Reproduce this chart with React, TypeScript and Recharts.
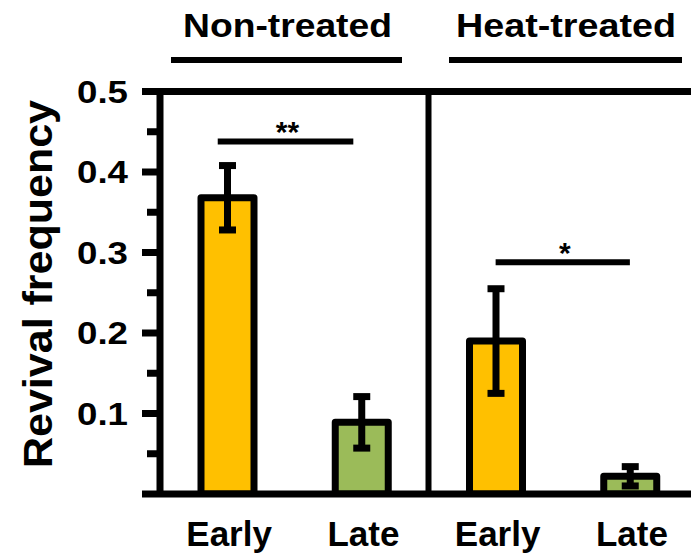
import React from 'react';
import { BarChart, Bar, XAxis, YAxis, ErrorBar, Cell, ReferenceLine } from 'recharts';

const groups = ['Non-treated', 'Heat-treated'];
const categories = ['Early', 'Late', 'Early', 'Late'];
const means = [0.368, 0.089, 0.19, 0.022];
const errors = [0.04, 0.032, 0.065, 0.012];
const barColors = ['#FFC000', '#9BBB59', '#FFC000', '#9BBB59'];
const yTicks = [0, 0.05, 0.1, 0.15, 0.2, 0.25, 0.3, 0.35, 0.4, 0.45, 0.5];
const yLabelled = [0.1, 0.2, 0.3, 0.4, 0.5];
const xTicks = [0.5, 1.5, 2.5, 3.5];
const sigLines = [
  { x1: 0.43, x2: 1.44, y: 0.438, label: '**' },
  { x1: 2.5, x2: 3.5, y: 0.288, label: '*' },
];

const FONT = '"Liberation Sans", Arial, Helvetica, sans-serif';

const data = categories.map((c, i) => ({ x: i + 0.5, name: c, value: means[i], err: errors[i] }));

const YTick = (props: any) => {
  const { x, y, payload } = props;
  const v = payload.value as number;
  const major = Math.abs(v * 10 - Math.round(v * 10)) < 1e-6;
  const len = major ? 18 : 13;
  const labelled = yLabelled.some((t) => Math.abs(t - v) < 1e-6);
  return (
    <g>
      <line x1={x - len} x2={x} y1={y} y2={y} stroke="#000" strokeWidth={7} />
      {labelled && (
        <text
          x={x - 32}
          y={y + 11}
          textAnchor="end"
          fontSize={31}
          fontWeight="bold"
          fontFamily={FONT}
          fill="#000"
          textLength={51}
          lengthAdjust="spacingAndGlyphs"
        >
          {v.toFixed(1)}
        </text>
      )}
    </g>
  );
};

const XTick = (props: any) => {
  const { x, y, payload } = props;
  const idx = xTicks.findIndex((t) => Math.abs(t - payload.value) < 1e-6);
  return (
    <text x={x + 2} y={y + 52} textAnchor="middle" fontSize={35} fontWeight="bold" fontFamily={FONT} fill="#000">
      {categories[idx] ?? ''}
    </text>
  );
};

const StarLabel = (text: string) => (props: any) => {
  const vb = props.viewBox || {};
  const cx = (vb.x ?? 0) + (vb.width ?? 0) / 2;
  const cy = vb.y ?? 0;
  return (
    <text x={cx + 2} y={cy + 1} textAnchor="middle" fontSize={30} fontWeight="bold" fontFamily={FONT} fill="#000">
      {text}
    </text>
  );
};

export default function App() {
  return (
    <div style={{ position: 'absolute', left: 0, top: 0, width: 691, height: 556, overflow: 'hidden', background: '#fff' }}>
      <BarChart
        width={700}
        height={556}
        data={data}
        margin={{ top: 91.5, right: 3, bottom: 12, left: 100 }}
        barSize={53}
      >
        <XAxis
          dataKey="x"
          type="number"
          domain={[0, 4]}
          ticks={xTicks}
          interval={0}
          height={50}
          tickSize={0}
          tickMargin={0}
          tickLine={false}
          axisLine={{ stroke: '#000', strokeWidth: 7 }}
          tick={<XTick />}
        />
        <YAxis
          type="number"
          domain={[0, 0.5]}
          ticks={yTicks}
          interval={0}
          width={60}
          tickSize={0}
          tickMargin={0}
          tickLine={false}
          allowDataOverflow
          axisLine={{ stroke: '#000', strokeWidth: 7 }}
          tick={<YTick />}
        />
        <ReferenceLine y={0.5} stroke="#000" strokeWidth={7} ifOverflow="visible" />
        <ReferenceLine x={2} stroke="#000" strokeWidth={6} ifOverflow="visible" />
        <Bar dataKey="value" stroke="#000" strokeWidth={7} strokeLinejoin="round" isAnimationActive={false}>
          {data.map((d, i) => (
            <Cell key={i} fill={barColors[i]} />
          ))}
          <ErrorBar dataKey="err" width={8.5} strokeWidth={7} stroke="#000" direction="y" />
        </Bar>
        {sigLines.map((s, i) => (
          <ReferenceLine
            key={i}
            segment={[{ x: s.x1, y: s.y }, { x: s.x2, y: s.y }]}
            stroke="#000"
            strokeWidth={6}
            ifOverflow="visible"
            label={{ content: StarLabel(s.label) } as any}
          />
        ))}
      </BarChart>
      <svg width={691} height={556} style={{ position: 'absolute', left: 0, top: 0, pointerEvents: 'none' }}>
        <text
          x={52}
          y={284}
          transform="rotate(-90, 52, 284)"
          textAnchor="middle"
          fontSize={40}
          fontWeight="bold"
          fontFamily={FONT}
          fill="#000"
          textLength={368}
          lengthAdjust="spacingAndGlyphs"
        >
          Revival frequency
        </text>
        <text x={287.5} y={37} textAnchor="middle" fontSize={33} fontWeight="bold" fontFamily={FONT} fill="#000" textLength={209} lengthAdjust="spacingAndGlyphs">
          {groups[0]}
        </text>
        <text x={566} y={37} textAnchor="middle" fontSize={33} fontWeight="bold" fontFamily={FONT} fill="#000" textLength={220} lengthAdjust="spacingAndGlyphs">
          {groups[1]}
        </text>
        <line x1={171} x2={402} y1={60} y2={60} stroke="#000" strokeWidth={6} />
        <line x1={449} x2={682} y1={60} y2={60} stroke="#000" strokeWidth={6} />
      </svg>
    </div>
  );
}
